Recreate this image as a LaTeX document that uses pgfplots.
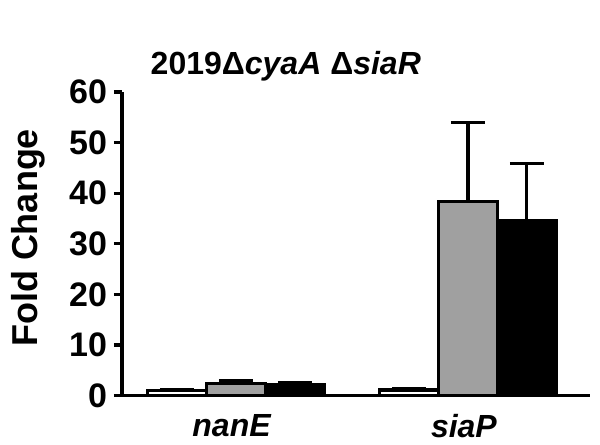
\documentclass[border=0pt]{standalone}
\usepackage{fontspec}
\setmainfont{Liberation Sans}
\usepackage{pgfplots}
\pgfplotsset{compat=1.18}
\definecolor{barGray}{HTML}{A0A0A0}

\begin{document}
\begin{tikzpicture}
\begin{axis}[
  name=ax,
  scale only axis,
  width=234pt, height=151.75pt,
  ybar, bar width=0.254,
  xmin=-0.491, xmax=1.526,
  ymin=0, ymax=60,
  ytick={0,10,...,60},
  xtick={0,1},
  xticklabels={\textit{nanE}, \textit{siaP}},
  axis x line=bottom, axis y line=left,
  axis line style={-, line width=1.6pt},
  tick align=outside,
  major tick length=4pt,
  y tick style={line width=1.6pt, black},
  x tick style={draw=none},
  /pgf/number format/assume math mode=true,
  font=\bfseries,
  yticklabel style={font=\fontsize{17}{17}\selectfont\bfseries},
  xticklabel style={font=\fontsize{16}{16}\selectfont\bfseries, yshift=-2pt, xshift=-2pt},
  ylabel={Fold Change},
  ylabel style={font=\fontsize{18}{18}\selectfont\bfseries,
                at={(axis description cs:-0.201,0.519)}, anchor=center},
  title={2019Δ\textit{cyaA} Δ\textit{siaR}},
  title style={font=\fontsize{16}{16}\selectfont\bfseries,
               at={(axis description cs:0.35,1.046)}, anchor=center},
  error bars/y dir=plus, error bars/y explicit,
  error bars/error bar style={line width=1.6pt, black},
  error bars/error mark options={rotate=90, line width=1.6pt, mark size=8.5pt, black},
  clip=false,
]
% white
\addplot[fill=white, draw=black, line width=1.6pt, bar shift=-0.254] coordinates
  {(0,1.0) +- (0,0.2) (1,1.1) +- (0,0.2)};
% gray
\addplot[fill=barGray, draw=black, line width=1.6pt, bar shift=0] coordinates
  {(0,2.4) +- (0,0.6) (1,38.4) +- (0,15.5)};
% black
\addplot[fill=black, draw=black, line width=1.6pt, bar shift=0.254] coordinates
  {(0,2.1) +- (0,0.4) (1,34.6) +- (0,11.3)};
\end{axis}
\path[use as bounding box] ([xshift=-61pt,yshift=-21.25pt]ax.south west)
  rectangle ([xshift=5pt,yshift=46pt]ax.north east);
\end{tikzpicture}
\end{document}
